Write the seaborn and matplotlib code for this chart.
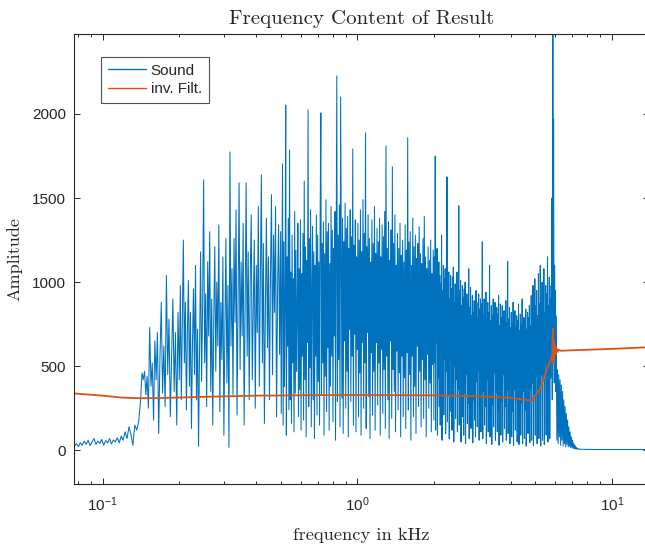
import numpy as np
import pandas as pd
import matplotlib
matplotlib.use("Agg")
import matplotlib.pyplot as plt
import seaborn as sns

# ---- Sound spectrum amplitudes, grouped by frequency band (kHz) ----
band_low = [25, 40, 22, 45, 30, 55, 35, 60, 28, 50, 70, 35, 55, 40, 65, 30, 58,
            45, 70, 38, 62, 50, 75, 45, 85, 60, 110, 70, 140, 95, 30, 150, 120, 175]
band_a = [300, 460, 420, 470, 330, 440, 250, 730, 380, 520, 180, 650, 420, 700, 100,
          560, 880, 340, 620, 260, 1040, 450, 780, 200, 560, 900, 350, 700, 150, 820]
band_b = [420, 980, 300, 760, 1250, 520, 880, 240, 700, 1010, 380, 820, 130, 640, 960,
          450, 1100, 300, 720, 24, 590, 1180, 410, 860,
          1608, 520, 930, 260, 1120, 680, 1300, 350, 900, 150, 780, 1210, 470, 1000,
          620, 1340, 230, 880, 540, 1150, 90, 720, 1260, 400, 980, 18, 1774,
          620, 1080, 330, 1260, 760, 1430, 210, 940, 1590, 480, 1120, 680, 1350, 150,
          900, 1590, 560, 1180, 300, 1020, 1400, 420, 830, 1250,
          250, 1100, 700, 1450, 380, 980, 1638, 520, 1230, 160, 870, 1380, 610, 1150,
          300, 1050, 1520, 450, 1280, 820, 1450, 200, 960, 1340, 570]
band_c = [1300, 220, 980, 1703, 150, 1240, 380, 860, 2053, 90, 1150, 620, 1380, 240,
          1786, 300, 1060, 160, 1280, 520, 1020, 110, 1420, 340, 1190, 470, 820, 1350,
          200, 1080,
          360, 1370, 120, 1050, 560, 1290, 180, 1600, 420, 1210, 80, 1130, 640, 2024,
          260, 1260, 490, 1430, 140, 960, 1330, 300, 1180, 70, 1100, 560, 1400, 210,
          1280, 410,
          1120, 150, 1440, 2006, 330, 1230, 520, 1360, 90, 1170, 440, 1490, 230, 1300,
          610, 1350, 120, 1110, 380, 1450, 560, 1310, 170, 1200, 680, 1420, 60, 1180,
          2226, 290,
          1280, 540, 1460, 140, 2100, 1120, 310, 1380, 100, 1240, 650, 1470, 250, 1320,
          470, 1390, 80, 1200, 720, 1430, 290, 1270, 560, 1792, 150, 1220, 690, 1370,
          110, 1150,
          600, 1350, 200, 1250, 460, 1430, 90, 1180, 640, 1490, 250, 1290, 520, 1887,
          130, 1210, 700, 1400, 320, 1260, 70, 1120, 580, 1370, 210, 1230, 470, 1450,
          120, 1170, 640, 1320, 270, 1240, 520,
          1380, 90, 1150, 600, 1340, 220, 1270, 480, 1420, 130, 1810, 560, 1200, 300,
          1360, 70, 1130, 650, 1310, 190, 1685, 480, 1230, 350, 1400, 110, 1100, 590,
          1290, 240, 1200, 460, 1350, 80, 1160, 560, 1250, 200, 1120, 430,
          1340, 130, 1190, 580, 1858, 240, 1240, 450, 1300, 60, 1100, 560, 1380, 200,
          1210, 380, 1280, 100, 1140, 620, 1230, 260, 1330, 470, 1170, 140, 1110, 540,
          1260, 190, 1390, 420, 1150, 80, 1080, 570, 1210, 250, 1130, 400, 1250, 110,
          1050, 510, 1190]
band_d = [180, 1150, 520, 1750, 120, 1060, 640, 1200, 90, 980, 430, 1120, 260, 1040,
          150, 990, 600, 1280, 60, 950, 380, 1100, 210, 1020, 540, 1080, 100, 920, 470,
          1626, 170, 1000, 330, 1060, 70, 900, 560, 1040, 230, 960, 120, 1030, 410, 1090,
          50, 880, 500, 990, 190, 940,
          420, 1060, 110, 900, 360, 1454, 150, 950, 480, 1010, 50, 860, 390, 980, 200,
          910, 90, 960, 340, 1000, 40, 840, 450, 930, 160, 880, 280, 1080, 70, 850, 380,
          970, 130, 800, 520, 920, 45, 820, 300, 890, 180, 860, 80, 950, 410, 880, 140,
          790, 470, 930, 60, 840, 330, 900, 110,
          870, 420, 1240, 70, 800, 350, 900, 150, 840, 260, 940, 40, 780, 420, 880, 110,
          820, 300, 1100, 80, 770, 380, 860, 35, 800, 270, 900, 140, 750, 460, 880, 60,
          780, 340, 850, 110, 810, 240, 920, 30, 740, 400, 870, 90, 790, 290, 860, 50,
          720, 450, 830, 130, 770, 260, 890,
          60, 760, 360, 1122, 100, 780, 280, 850, 40, 730, 400, 820, 80, 760, 230, 880,
          30, 720, 360, 830, 120, 740, 300, 800, 50, 770, 250, 870, 35, 710, 380, 810,
          90, 750, 280, 900, 40, 730, 350, 790, 70, 770, 240, 840, 25, 720, 390, 820,
          100, 790, 300, 860, 45, 740, 360,
          920, 60, 780, 400, 980, 30, 820, 330, 1020, 90, 860, 440, 950, 40, 800, 380,
          1050, 70, 870, 350, 1100, 25, 840, 450, 1000, 60, 890, 410, 1080, 35, 820, 520,
          980, 90, 930, 400, 1150, 50, 860, 480, 1030, 70, 900, 430, 980]
band_spike = [700, 1500, 300, 2100, 3000, 600, 1970, 900, 400, 1100, 700, 950, 350, 800]
band_decay = [620, 60, 480, 40, 450, 80, 420, 30, 390, 60, 350, 25, 300, 40, 260, 20,
              220, 35, 180, 20, 140, 25, 110, 15, 80, 18, 60, 12, 40, 10, 28, 8, 18, 7,
              12, 6, 9, 6, 7, 6]
band_tail = [6, 5, 5, 5, 5]

# band edges in kHz
band_edges = [0.0775, 0.141, 0.2, 0.5, 2.0, 5.8, 6.05, 7.6, 14.0]
bands = [band_low, band_a, band_b, band_c, band_d, band_spike, band_decay, band_tail]

# ---- inverse filter response ----
filt_freq = [0.0775, 0.10, 0.12, 0.14, 0.17, 0.25, 0.4, 0.7, 1.0, 2.0, 3.0, 4.0, 4.85,
             5.2, 5.5, 5.75, 5.85, 5.87, 5.9, 5.93, 5.96, 6.0, 6.03, 6.07, 6.12, 6.2,
             6.3, 7.0, 10.0, 14.0]
filt_amp = [338, 325, 313, 310, 311, 318, 325, 328, 329, 327, 322, 312, 296,
            360, 460, 540, 575, 724, 520, 650, 560, 620, 575, 605, 585, 598,
            592, 595, 603, 613]

# frequency grid for each band (log spaced within the band)
freqs, amps = [], []
for i, vals in enumerate(bands):
    last = i == len(bands) - 1
    f = np.geomspace(band_edges[i], band_edges[i + 1], len(vals), endpoint=last)
    freqs.append(f)
    amps.append(np.asarray(vals, dtype=float))
sound = pd.DataFrame({"freq": np.concatenate(freqs), "amp": np.concatenate(amps)})
filt = pd.DataFrame({"freq": filt_freq, "amp": filt_amp})

sns.set_style("white")
plt.rcParams["font.family"] = ["Liberation Sans", "DejaVu Sans"]
plt.rcParams["mathtext.fontset"] = "custom"
plt.rcParams["mathtext.rm"] = "Liberation Sans"

BLUE = "#0072BD"
ORANGE = "#D95319"
DARK = "#262626"

fig = plt.figure(figsize=(6.45, 5.46), dpi=100)
ax = fig.add_axes([0.1155, 0.1136, 0.8907, 0.8241])

sns.lineplot(data=sound, x="freq", y="amp", ax=ax, color=BLUE, lw=0.75,
             estimator=None, sort=False, label="Sound")
sns.lineplot(data=filt, x="freq", y="amp", ax=ax, color=ORANGE, lw=1.3,
             estimator=None, sort=False, label="inv. Filt.")

ax.set_xscale("log")
ax.set_xlim(0.0775, 14.0)
ax.set_ylim(-200, 2475)
ax.set_xticks([0.1, 1, 10])
ax.set_xticklabels([r"$\mathregular{10^{-1}}$", r"$\mathregular{10^{0}}$",
                    r"$\mathregular{10^{1}}$"])
ax.set_yticks([0, 500, 1000, 1500, 2000])

for s in ax.spines.values():
    s.set_visible(True)
    s.set_color(DARK)
    s.set_linewidth(0.8)
ax.tick_params(which="both", direction="in", top=True, right=True, bottom=True,
               left=True, color=DARK, labelcolor=DARK, labelsize=11, width=0.7)
ax.tick_params(which="major", length=4.5, pad=6)
ax.tick_params(which="minor", length=2.5)
ax.tick_params(axis="x", which="major", pad=8)

serif = "cmr10"
ax.set_title("Frequency Content of Result", fontfamily=serif, fontsize=15,
             color=DARK, pad=7)
ax.set_xlabel("frequency in kHz", fontfamily=serif, fontsize=13.3, color=DARK,
              labelpad=10)
ax.set_ylabel("Amplitude", fontfamily=serif, fontsize=13, color=DARK, labelpad=7)

leg = ax.legend(loc="upper left", bbox_to_anchor=(0.046, 0.949), borderaxespad=0,
                fontsize=11, handlelength=2.5, handletextpad=0.3,
                labelspacing=0.3, borderpad=0.45, fancybox=False, frameon=True)
leg.get_frame().set_edgecolor(DARK)
leg.get_frame().set_linewidth(0.8)
for line in leg.get_lines():
    line.set_linewidth(1.0)

fig.savefig("out.png", dpi=100)
